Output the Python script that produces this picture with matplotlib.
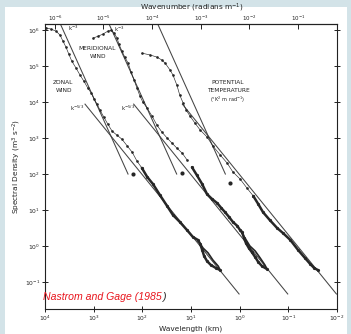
import numpy as np
import matplotlib
matplotlib.use("Agg")
import matplotlib.pyplot as plt
from matplotlib.patches import Rectangle

# ---------------- data (log10 wavelength [km], log10 spectral density) ----------------
zonal_logL = [3.98, 3.88, 3.77, 3.69, 3.63, 3.57, 3.51, 3.45, 3.36, 3.28, 3.20, 3.12, 3.05,
              2.99, 2.93, 2.87, 2.79, 2.71, 2.62, 2.52, 2.42, 2.31, 2.21, 2.11, 2.01, 1.90,
              1.78, 1.64, 1.49, 1.37, 1.23, 1.08, 0.96, 0.86, 0.81, 0.77, 0.73, 0.67, 0.59,
              0.49, 0.40]
zonal_logS = [6.06, 6.03, 5.97, 5.86, 5.69, 5.53, 5.33, 5.14, 4.94, 4.75, 4.58, 4.39, 4.25,
              4.08, 3.94, 3.78, 3.58, 3.39, 3.19, 3.08, 2.97, 2.78, 2.61, 2.36, 2.17, 1.92,
              1.72, 1.42, 1.11, 0.86, 0.67, 0.44, 0.25, 0.17, 0.06, -0.11, -0.28, -0.42, -0.53,
              -0.61, -0.67]
zonal_loop_logL = [0.81, 0.75, 0.65, 0.55, 0.44, 0.40]
zonal_loop_logS = [0.06, -0.06, -0.19, -0.39, -0.56, -0.67]

merid_logL = [3.01, 2.91, 2.81, 2.71, 2.64, 2.58, 2.52, 2.48, 2.42, 2.36, 2.29, 2.23, 2.17,
              2.11, 2.05, 1.99, 1.90, 1.80, 1.70, 1.60, 1.49, 1.39, 1.29, 1.18, 1.08, 0.98,
              0.88, 0.77, 0.67, 0.57, 0.46, 0.38, 0.30, 0.22, 0.14, 0.05, -0.01, -0.05, -0.09,
              -0.13, -0.19, -0.25, -0.32, -0.38, -0.46, -0.56]
merid_logS = [5.78, 5.83, 5.89, 5.97, 6.00, 5.92, 5.78, 5.61, 5.42, 5.25, 5.08, 4.83, 4.61,
              4.39, 4.17, 4.00, 3.83, 3.61, 3.36, 3.17, 3.00, 2.86, 2.72, 2.58, 2.39, 2.19,
              1.97, 1.72, 1.44, 1.31, 1.19, 1.06, 0.94, 0.81, 0.67, 0.56, 0.44, 0.39, 0.22,
              0.08, -0.06, -0.17, -0.31, -0.44, -0.56, -0.64]
merid_loop_logL = [-0.01, -0.21, -0.32, -0.42, -0.52, -0.56]
merid_loop_logS = [0.44, -0.00, -0.14, -0.33, -0.53, -0.64]

pt_logL = [2.01, 1.84, 1.70, 1.60, 1.53, 1.43, 1.37, 1.29, 1.23, 1.16, 1.10, 1.02, 0.92,
           0.81, 0.67, 0.55, 0.40, 0.26, 0.14, -0.01, -0.15, -0.28, -0.38, -0.48, -0.62,
           -0.77, -0.89, -1.04, -1.20, -1.34, -1.45, -1.53, -1.61]
pt_logS = [5.36, 5.31, 5.25, 5.17, 5.08, 4.89, 4.75, 4.47, 4.19, 3.97, 3.78, 3.61, 3.42,
           3.22, 3.03, 2.78, 2.53, 2.31, 2.06, 1.86, 1.61, 1.39, 1.17, 0.94, 0.72,
           0.50, 0.36, 0.17, -0.11, -0.33, -0.50, -0.61, -0.67]

# isolated large dots
big_logL = [2.19, 1.18, 0.20]
big_logS = [2.00, 2.03, 1.75]

# reference power laws: level at reference wavelength, and wavelength span (log10 km)
ref_logL = [3.0, 2.0, 1.0]            # zonal, meridional, potential temperature
k3_logS_at_ref = [4.118, 4.118, 4.118]
k53_logS_at_ref = [3.647, 3.647, 3.647]
k3_span = [(3.70, 2.294), (2.70, 1.294), (1.70, 0.294)]
k53_span = [(3.178, 0.012), (2.178, -0.988), (1.178, -1.988)]
dense_below = [2.0, 1.0, -0.3]        # log10 wavelength below which points are dense

xticks_km = [1e4, 1e3, 1e2, 1e1, 1e0, 1e-1, 1e-2]
xtick_labels = [r"$10^{4}$", r"$10^{3}$", r"$10^{2}$", r"$10^{1}$", r"$10^{0}$", r"$10^{-1}$", r"$10^{-2}$"]
yticks = [1e6, 1e5, 1e4, 1e3, 1e2, 1e1, 1e0, 1e-1]
ytick_labels = [r"$10^{6}$", r"$10^{5}$", r"$10^{4}$", r"$10^{3}$", r"$10^{2}$", r"$10^{1}$", r"$10^{0}$", r"$10^{-1}$"]
kticks = [1e-6, 1e-5, 1e-4, 1e-3, 1e-2, 1e-1]
ktick_labels = [r"$10^{-6}$", r"$10^{-5}$", r"$10^{-4}$", r"$10^{-3}$", r"$10^{-2}$", r"$10^{-1}$"]

# ---------------- figure ----------------
W, H = 351, 334
fig = plt.figure(figsize=(W / 100, H / 100), dpi=100)
fig.patch.set_facecolor("#d3e3e8")
fig.patches.append(Rectangle((5 / W, 0), 342 / W, 1 - 7 / H, transform=fig.transFigure,
                             facecolor="white", edgecolor="none", zorder=-10))

ax = fig.add_axes([45 / W, 1 - 309 / H, 292 / W, 285 / H])
ax.set_zorder(1)
ax.set_facecolor("white")
ax.set_xscale("log")
ax.set_yscale("log")
ax.set_xlim(1e4, 1e-2)
ax.set_ylim(10 ** -1.75, 10 ** 6.17)

ink = "#262626"
lc = "#444444"

# reference lines
for i in range(3):
    L = np.array(k3_span[i])
    ax.plot(10 ** L, 10 ** (k3_logS_at_ref[i] + 3 * (L - ref_logL[i])), color=lc, lw=0.75, zorder=2)
    L = np.array(k53_span[i])
    ax.plot(10 ** L, 10 ** (k53_logS_at_ref[i] + 5 / 3 * (L - ref_logL[i])), color=lc, lw=0.75, zorder=2)

# spectra
series = [(zonal_logL, zonal_logS), (merid_logL, merid_logS), (pt_logL, pt_logS)]
for i, (lL, lS) in enumerate(series):
    lL = np.array(lL); lS = np.array(lS)
    sparse = lL >= dense_below[i]
    dense = lL <= dense_below[i] + 0.05
    ax.plot(10 ** lL[sparse], 10 ** lS[sparse], color=ink, lw=0.45, zorder=3)
    ax.plot(10 ** lL[sparse], 10 ** lS[sparse], "o", color=ink, ms=1.9, mew=0, zorder=3)
    ax.plot(10 ** lL[dense], 10 ** lS[dense], color=ink, lw=1.8, zorder=3,
            solid_capstyle="round", solid_joinstyle="round")
    ax.plot(10 ** lL[dense], 10 ** lS[dense], "o", color=ink, ms=2.3, mew=0, zorder=3)

for lL, lS in [(zonal_loop_logL, zonal_loop_logS), (merid_loop_logL, merid_loop_logS)]:
    ax.plot(10 ** np.array(lL), 10 ** np.array(lS), color=ink, lw=1.2, zorder=3)

ax.plot(10 ** np.array(big_logL), 10 ** np.array(big_logS), "o", color=ink, ms=3.0, mew=0, zorder=3)

# axes styling
for s in ax.spines.values():
    s.set_color("#222222")
    s.set_linewidth(0.8)
ax.set_xticks(xticks_km)
ax.set_xticklabels(xtick_labels)
ax.set_yticks(yticks)
ax.set_yticklabels(ytick_labels)
ax.xaxis.set_minor_locator(matplotlib.ticker.NullLocator())
ax.yaxis.set_minor_locator(matplotlib.ticker.NullLocator())
ax.tick_params(axis="both", which="major", labelsize=4.3, colors="#222222", length=4, width=0.7,
               direction="inout", pad=1.5)
ax.tick_params(axis="y", right=True, labelright=False)

sec = ax.secondary_xaxis("top", functions=(lambda L: 2 * np.pi / (np.asarray(L) * 1000.0),
                                            lambda k: 2 * np.pi / (np.asarray(k) * 1000.0)))
sec.set_xticks(kticks)
sec.set_xticklabels(ktick_labels)
sec.xaxis.set_minor_locator(matplotlib.ticker.NullLocator())
sec.tick_params(labelsize=4.0, colors="#222222", length=3.5, width=0.7, direction="in", pad=0.5)
sec.spines["top"].set_linewidth(0.8)

fs_lab = 5.3
ax.set_xlabel("Wavelength (km)", fontsize=fs_lab, labelpad=2, color="#222222")
ax.set_ylabel("Spectral Density (m$^{3}$ s$^{-2}$)", fontsize=fs_lab, labelpad=1, color="#222222")

def px(x, y):
    return (x / W, 1 - y / H)

fig.text(*px(192, 8), "Wavenumber (radians m$^{-1}$)", transform=fig.transFigure, fontsize=fs_lab,
         color="#222222", ha="center", va="center", zorder=5)

tk = dict(transform=fig.transFigure, fontsize=4.2, color="#222222", ha="center", va="center", zorder=5)
fig.text(*px(97, 48), "MERIDIONAL", **tk)
fig.text(*px(98, 56), "WIND", **tk)
fig.text(*px(63, 83), "ZONAL", **tk)
fig.text(*px(64, 91), "WIND", **tk)
fig.text(*px(228, 83), "POTENTIAL", **tk)
fig.text(*px(228, 91), "TEMPERATURE", **tk)
fig.text(*px(228, 100), "(°K$^{2}$ m rad$^{-1}$)", **dict(tk, fontsize=3.6))
fig.text(*px(73, 28), "k$^{-3}$", **dict(tk, fontsize=4.0))
fig.text(*px(119, 29), "k$^{-3}$", **dict(tk, fontsize=4.0))
fig.text(*px(77, 108), "k$^{-5/3}$", **dict(tk, fontsize=4.0))
fig.text(*px(128, 108), "k$^{-5/3}$", **dict(tk, fontsize=4.0))

# red citation with black closing parenthesis
t = fig.text(*px(43, 297), "Nastrom and Gage (1985", transform=fig.transFigure, fontsize=7.6,
             color="#e8141c", style="italic", family="Liberation Sans", ha="left", va="center", zorder=5)
fig.canvas.draw()
bb = t.get_window_extent(renderer=fig.canvas.get_renderer())
fig.text(bb.x1 / W, 1 - 297 / H, ")", transform=fig.transFigure, fontsize=7.6,
         color="#222222", style="italic", family="Liberation Sans", ha="left", va="center", zorder=5)

fig.savefig("out.png", dpi=100, facecolor=fig.get_facecolor())
